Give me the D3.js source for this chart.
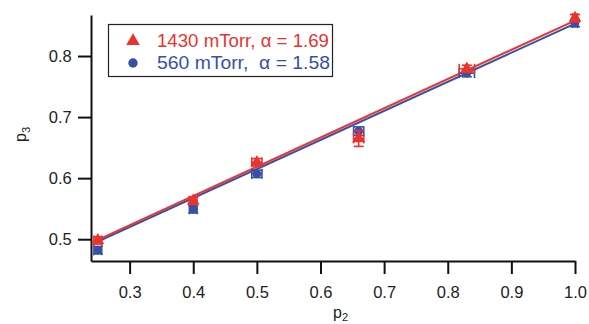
<!DOCTYPE html>
<html>
<head>
<meta charset="utf-8">
<script src="https://cdn.jsdelivr.net/npm/d3@7"></script>
<style>
  html, body { margin: 0; padding: 0; background: #fff; }
  svg { display: block; font-family: "Liberation Sans", Arial, sans-serif; }
</style>
</head>
<body>
<svg id="chart" width="589" height="324"></svg>
<script>
// Measured probabilities: p3 versus p2 for two pressures
const p2Values = [0.25, 0.40, 0.50, 0.66, 0.83, 1.00];
const p3High = [0.498, 0.563, 0.626, 0.665, 0.779, 0.862];   // 1430 mTorr
const p3Low  = [0.482, 0.549, 0.607, 0.677, 0.772, 0.854];   // 560 mTorr
const xErrHigh = [0.006, 0.006, 0.008, 0.008, 0.012, 0.004];
const yErrHigh = [0.006, 0.006, 0.006, 0.013, 0.006, 0.006];
const xErrLow  = [0.006, 0.006, 0.008, 0.008, 0.012, 0.004];
const yErrLow  = [0.006, 0.006, 0.006, 0.007, 0.006, 0.006];
// Linear fits, evaluated at the ends of the data range
const fitX = [0.25, 1.00];
const fitHigh = [0.499, 0.858];
const fitLow  = [0.496, 0.853];
const xTicks = [0.3, 0.4, 0.5, 0.6, 0.7, 0.8, 0.9, 1.0];
const yTicks = [0.5, 0.6, 0.7, 0.8];
const legendLabels = ["1430 mTorr, \u03b1 = 1.69", "560 mTorr,  \u03b1 = 1.58"];

const red = "#e8332e", blue = "#3650a8";
const svg = d3.select("#chart");

const x = d3.scaleLinear().domain([0.2393, 1.0]).range([91, 575]);
const y = d3.scaleLinear().domain([0.4643, 0.8672]).range([261, 15]);

// Axes
const xAxis = d3.axisBottom(x).tickValues(xTicks).tickSize(13).tickSizeOuter(0)
  .tickFormat(d3.format(".1f"));
const yAxis = d3.axisLeft(y).tickValues(yTicks).tickSize(13).tickSizeOuter(0)
  .tickFormat(d3.format(".1f"));

const gx = svg.append("g").attr("transform", "translate(0,261)").call(xAxis);
const gy = svg.append("g").attr("transform", "translate(91,0)").call(yAxis);
[gx, gy].forEach(g => {
  g.selectAll("path, line").attr("stroke", "#111").attr("stroke-width", 2);
  g.selectAll("text").attr("fill", "#222").style("font-size", "16.5px");
});
gx.selectAll("text").attr("dy", "1.25em");
gy.selectAll("text").attr("dx", "-0.2em");

// Axis titles
svg.append("text").attr("x", 333).attr("y", 318).attr("fill", "#222")
  .style("font-size", "16px").html('p<tspan dy="3" font-size="11">2</tspan>');
svg.append("text").attr("transform", "translate(26,142) rotate(-90)").attr("fill", "#222")
  .style("font-size", "16px").html('p<tspan dy="4" font-size="11">3</tspan>');

// Fit lines
const line = d3.line().x(d => x(d[0])).y(d => y(d[1]));
svg.append("path").datum(d3.zip(fitX, fitLow)).attr("d", line)
  .attr("fill", "none").attr("stroke", blue).attr("stroke-width", 2);
svg.append("path").datum(d3.zip(fitX, fitHigh)).attr("d", line)
  .attr("fill", "none").attr("stroke", red).attr("stroke-width", 2);

// Error bars and markers
function drawSeries(vals, xe, ye, color, shape) {
  const g = svg.append("g");
  p2Values.forEach((px, i) => {
    const cx = x(px), cy = y(vals[i]);
    const x0 = x(px - xe[i]), x1 = x(px + xe[i]);
    const y0 = y(vals[i] - ye[i]), y1 = y(vals[i] + ye[i]);
    const eb = g.append("g").attr("stroke", color).attr("stroke-width", 1.6);
    eb.append("line").attr("x1", x0).attr("x2", x1).attr("y1", cy).attr("y2", cy);
    eb.append("line").attr("x1", cx).attr("x2", cx).attr("y1", y0).attr("y2", y1);
    eb.append("line").attr("x1", x0).attr("x2", x0).attr("y1", cy - 5).attr("y2", cy + 5);
    eb.append("line").attr("x1", x1).attr("x2", x1).attr("y1", cy - 5).attr("y2", cy + 5);
    eb.append("line").attr("x1", cx - 5).attr("x2", cx + 5).attr("y1", y0).attr("y2", y0);
    eb.append("line").attr("x1", cx - 5).attr("x2", cx + 5).attr("y1", y1).attr("y2", y1);
    g.append("path")
      .attr("d", d3.symbol().type(shape).size(shape === d3.symbolCircle ? 60 : 70)())
      .attr("transform", `translate(${cx},${cy})`)
      .attr("fill", color);
  });
}
drawSeries(p3Low, xErrLow, yErrLow, blue, d3.symbolCircle);
drawSeries(p3High, xErrHigh, yErrHigh, red, d3.symbolTriangle);

// Legend
const lg = svg.append("g");
lg.append("rect").attr("x", 108.5).attr("y", 24.5).attr("width", 224).attr("height", 52)
  .attr("fill", "#fff").attr("stroke", "#222").attr("stroke-width", 1.2);
const legendColors = [red, blue];
const legendShapes = [d3.symbolTriangle, d3.symbolCircle];
legendLabels.forEach((t, i) => {
  const ly = 41 + i * 22;
  lg.append("path").attr("d", d3.symbol().type(legendShapes[i]).size(i === 0 ? 80 : 70)())
    .attr("transform", `translate(133,${ly})`).attr("fill", legendColors[i]);
  lg.append("text").attr("x", 157).attr("y", ly + 6).attr("fill", legendColors[i])
    .attr("textLength", i === 0 ? 172 : 173).attr("lengthAdjust", "spacingAndGlyphs")
    .style("font-size", "17.5px").attr("xml:space", "preserve").text(t);
});
</script>
</body>
</html>
